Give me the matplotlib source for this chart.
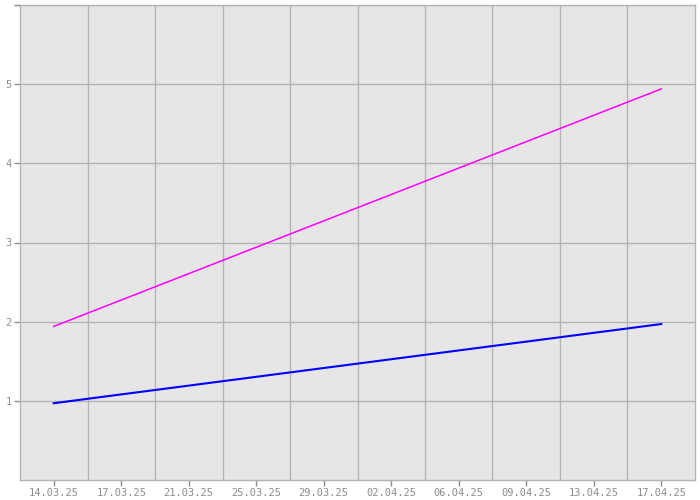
import matplotlib
matplotlib.use("Agg")
import matplotlib.pyplot as plt
import matplotlib.dates as mdates
import numpy as np
from datetime import datetime

# data
dates = [datetime(2025, 3, 14), datetime(2025, 4, 17)]
magenta_vals = [1.94, 4.94]
blue_vals = [0.97, 1.97]

tick_labels = ["14.03.25", "17.03.25", "21.03.25", "25.03.25", "29.03.25",
               "02.04.25", "06.04.25", "09.04.25", "13.04.25", "17.04.25"]

grey = "#8c8c8c"
line_grey = "#b4b4b4"

fig = plt.figure(figsize=(7, 5), dpi=100)
ax = fig.add_axes([20 / 700, 20 / 500, 675 / 700, 475 / 500])
ax.set_facecolor("#e6e6e6")

x = mdates.date2num(dates)
ax.plot(x, magenta_vals, color="#ff00ff", lw=1.1, zorder=3)
ax.plot(x, blue_vals, color="#0000ff", lw=1.5, zorder=3)

# ticks spread evenly between first and last date, grid on the cell edges
ticks = np.linspace(x[0], x[-1], len(tick_labels))
step = ticks[1] - ticks[0]
ax.set_xlim(x[0] - step / 2, x[-1] + step / 2)
ax.set_xticks(ticks)
ax.set_xticklabels(tick_labels)
ax.set_xticks(ticks[:-1] + step / 2, minor=True)
ax.grid(True, which="minor", axis="x", color=line_grey, lw=1)

ax.set_ylim(0, 6)
ax.set_yticks([1, 2, 3, 4, 5, 6])
ax.set_yticklabels(["1", "2", "3", "4", "5", ""])
ax.grid(True, which="major", axis="y", color=line_grey, lw=1)
ax.set_axisbelow(True)

ax.tick_params(axis="both", which="major", colors=grey, length=4, width=1,
               labelsize=7.5, pad=2)
ax.tick_params(axis="x", which="minor", length=0)
for lab in ax.get_xticklabels() + ax.get_yticklabels():
    lab.set_family("DejaVu Sans Mono")
    lab.set_color(grey)
for s in ax.spines.values():
    s.set_color(line_grey)
    s.set_linewidth(1)

fig.savefig("out.png", dpi=100)
